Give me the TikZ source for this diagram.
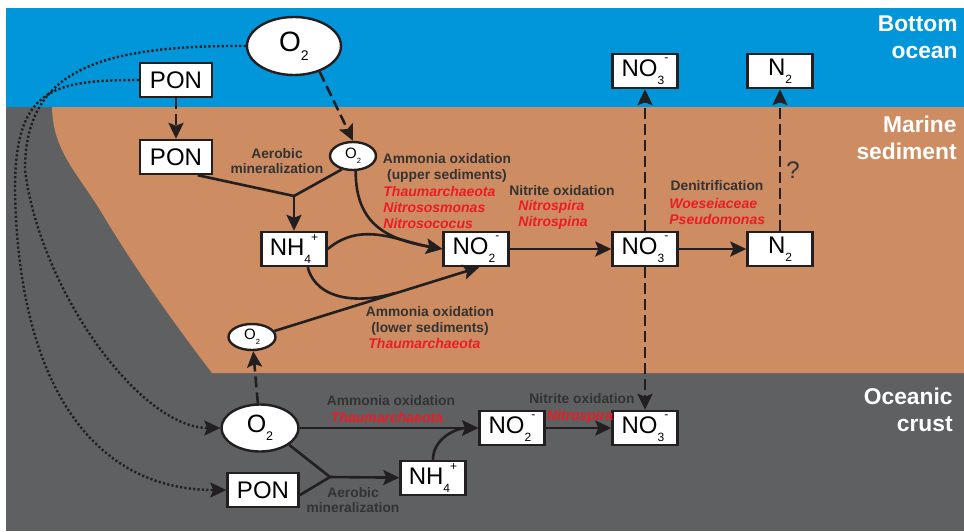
\documentclass[tikz,border=0pt]{standalone}
\usepackage{fontspec}
\usepackage{graphicx}
\setmainfont{Liberation Sans}
\usetikzlibrary{arrows.meta,shapes.geometric}

\definecolor{ocean}{RGB}{0,150,217}
\definecolor{sediment}{RGB}{205,140,98}
\definecolor{crust}{RGB}{95,96,98}
\definecolor{ink}{RGB}{35,31,32}
\definecolor{label}{RGB}{51,51,51}
\definecolor{taxon}{RGB}{237,28,36}

\newcommand{\lo}[1]{\raisebox{-0.33em}{\scalebox{0.5}{#1}}}
\newcommand{\hi}[1]{\raisebox{0.62em}{\scalebox{0.5}{#1}}}
\newcommand{\spc}[3]{#1\lo{#2}\hi{#3}}

\tikzset{
  box/.style={draw=ink,line width=1.2pt,fill=white,minimum width=32.5pt,minimum height=17pt,inner sep=0pt,font=\fontsize{12}{14}\selectfont},
  ponbox/.style={box,minimum width=36pt},
  gas/.style={ellipse,draw=ink,line width=1.2pt,fill=white,inner sep=0pt},
  ln/.style={draw=ink,line width=1.3pt},
  arr/.style={ln,-{Stealth[length=8pt,width=7.5pt,inset=1.5pt]}},
  dsh/.style={arr,dash pattern=on 5.5pt off 2.5pt},
  dot/.style={arr,line width=1.2pt,dash pattern=on 1.1pt off 1.1pt},
  proc/.style={font=\fontsize{6.9}{7.8}\selectfont\bfseries,text=label,align=center,inner sep=0pt},
  taxa/.style={font=\fontsize{7}{8}\selectfont\bfseries\itshape,text=taxon,align=left,inner sep=0pt},
  zone/.style={font=\fontsize{11.4}{13.5}\selectfont\bfseries,text=white,align=right,inner sep=0pt,anchor=east}
}

\begin{document}
\begin{tikzpicture}[x=0.5pt,y=0.5pt]
\useasboundingbox (0,0) rectangle (964,-531);
% layers
\fill[crust] (6,-8) rectangle (964,-531);
\fill[ocean] (6,-8) rectangle (964,-107);
\fill[sediment] (52,-107) .. controls (53,-150) and (75,-170) .. (100,-210)
  .. controls (125,-252) and (160,-305) .. (212,-373) -- (964,-373) -- (964,-107) -- cycle;
\node[zone] (zOcean) at (958,-37) {Bottom\\ocean};
\node[zone] (zSed) at (957,-138) {Marine\\sediment};
\node[zone] (zCrust) at (953,-410) {Oceanic\\crust};

% bottom ocean
\node[gas,minimum width=47pt,minimum height=29pt,font=\fontsize{14}{16}\selectfont] (O2t) at (294,-46) {O\lo{2}};
\node[ponbox] (PONt) at (176,-80) {PON};
\node[box] (NO3t) at (645,-71) {\spc{NO}{3}{-}};
\node[box] (N2t) at (780,-71) {\spc{N}{2}{}};

% marine sediment
\node[ponbox] (PONs) at (176,-157) {PON};
\node[gas,minimum width=23pt,minimum height=14pt,font=\fontsize{7.5}{8}\selectfont] (O2s) at (353,-156) {O\lo{2}};
\node[box] (NH4s) at (294,-249) {\spc{NH}{4}{+}};
\node[box] (NO2s) at (476,-249) {\spc{NO}{2}{-}};
\node[box] (NO3s) at (645,-249) {\spc{NO}{3}{-}};
\node[box] (N2s) at (780,-249) {\spc{N}{2}{}};
\node[gas,minimum width=23.5pt,minimum height=13pt,font=\fontsize{7.5}{8}\selectfont] (O2l) at (252,-337) {O\lo{2}};
\coordinate (j1) at (294,-196);
\coordinate (m2) at (395,-293);

% oceanic crust
\node[gas,minimum width=38.5pt,minimum height=23.5pt,font=\fontsize{12.5}{14}\selectfont] (O2c) at (260,-428) {O\lo{2}};
\node[box,minimum width=35.5pt] (PONc) at (263,-490) {PON};
\node[box] (NH4c) at (433,-478) {\spc{NH}{4}{+}};
\node[box] (NO2c) at (512,-428) {\spc{NO}{2}{-}};
\node[box] (NO3c) at (645,-428) {\spc{NO}{3}{-}};
\coordinate (j2) at (330,-477);

% process labels
\node[proc] (aerS) at (277,-161) {Aerobic\\mineralization};
\node[proc] (amoU) at (447,-168) {Ammonia oxidation\\(upper sediments)};
\node[taxa,anchor=west] (taxU) at (383,-207) {Thaumarchaeota\\Nitrososmonas\\Nitrosococus};
\node[proc] (nitS) at (562,-191) {Nitrite oxidation};
\node[taxa,anchor=west] (taxN) at (518,-215) {Nitrospira\\Nitrospina};
\node[proc] (denS) at (717,-186) {Denitrification};
\node[taxa,anchor=west] (taxD) at (669,-211) {Woeseiaceae\\Pseudomonas};
\node[font=\fontsize{12}{14}\selectfont,text=label,inner sep=0pt] (qN2) at (793,-170) {?};
\node[proc] (amoL) at (430,-321) {Ammonia oxidation\\(lower sediments)};
\node[taxa,anchor=west] (taxL) at (368,-343) {Thaumarchaeota};
\node[proc] (amoC) at (391,-401) {Ammonia oxidation};
\node[taxa,align=center] (taxC) at (387,-417) {Thaumarchaeota};
\node[proc] (aerC) at (353,-500) {Aerobic\\mineralization};
\node[proc] (nitC) at (582,-399) {Nitrite oxidation};
\node[taxa,align=center] (taxNC) at (580,-417) {Nitrospira};

% transport
\draw[dsh] (O2t.-45) -- (O2s.north);
\draw[dsh] (PONt) -- (PONs);
\draw[dsh] (NO3s) -- (NO3t);
\draw[dsh] (N2s) -- (N2t);
\draw[dsh] (NO3s) -- (NO3c);
\draw[dsh] (O2c) -- (O2l);
\draw[dot] (O2t.west) .. controls (90,-45) and (25,-75) .. (25,-170)
  .. controls (40,-290) and (140,-428) .. (O2c.west);
\draw[dot] (PONt.west) .. controls (50,-80) and (15,-90) .. (15,-190)
  .. controls (18,-380) and (90,-490) .. (PONc.west);

% sediment reactions
\draw[ln] (PONs.-40) -- (j1);
\draw[ln] (O2s.-130) -- (j1);
\draw[arr] (j1) -- (NH4s);
\draw[arr] (O2s.-80) to[out=-90,in=170,looseness=1.2] (NO2s.west);
\draw[arr] (NH4s.east) to[out=40,in=170] (NO2s.west);
\draw[arr] (O2l.15) -- (NO2s.-80);
\draw[ln] (NH4s.-53) to[out=-75,in=197] (m2);
\draw[arr] (NO2s) -- (NO3s);
\draw[arr] (NO3s) -- (N2s);

% crust reactions
\draw[ln] (O2c.-30) -- (j2);
\draw[ln] (PONc.-8) -- (j2);
\draw[arr] (j2) -- (NH4c);
\draw[arr] (O2c) -- (NO2c);
\draw[arr] (NH4c.north) to[out=90,in=180] (NO2c.west);
\draw[arr] (NO2c) -- (NO3c);
\end{tikzpicture}
\end{document}
